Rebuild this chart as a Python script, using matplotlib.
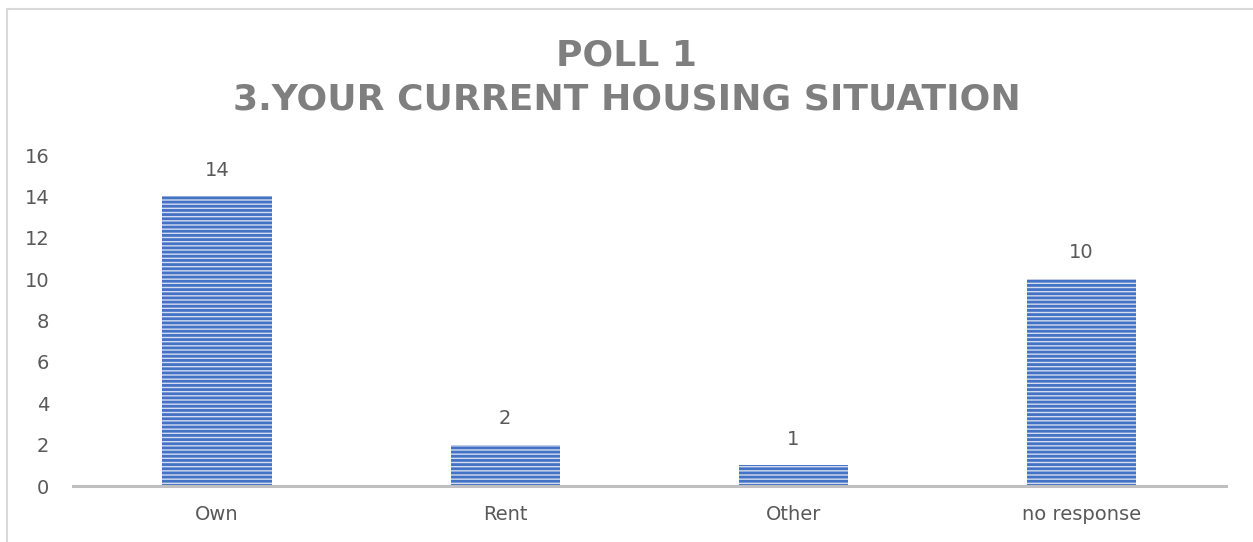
import matplotlib.pyplot as plt
from matplotlib.patches import Rectangle

categories = ['Own', 'Rent', 'Other', 'no response']
counts = [14, 2, 1, 10]
y_ticks = [0, 2, 4, 6, 8, 10, 12, 14, 16]

bar_blue = '#4472C4'
bar_light = '#d4ddf0'
text_grey = '#595959'
title_grey = '#7f7f7f'

plt.rcParams['font.family'] = ['DejaVu Sans']
plt.rcParams['hatch.linewidth'] = 2.0

fig = plt.figure(figsize=(12.53, 5.42), dpi=100)
ax = fig.add_axes([0.0583, 0.1033, 0.9199, 0.6107])

x = range(len(categories))
bars = ax.bar(x, counts, width=0.38, facecolor=bar_light, edgecolor=bar_blue,
              hatch='----', linewidth=0, zorder=2)

for xi, v in zip(x, counts):
    ax.annotate(str(v), (xi, v), xytext=(0, 12), textcoords='offset points',
                ha='center', va='bottom', fontsize=14, color=text_grey)

ax.set_xlim(-0.5, len(categories) - 0.5)
ax.set_ylim(0, 16)
ax.set_yticks(y_ticks, [str(t) for t in y_ticks])
ax.set_xticks(list(x), categories)
ax.tick_params(axis='y', length=0, pad=17, labelsize=14, labelcolor=text_grey)
ax.tick_params(axis='x', length=0, pad=14, labelsize=14, labelcolor=text_grey)

for s in ['left', 'right', 'top']:
    ax.spines[s].set_visible(False)
ax.spines['bottom'].set_color('#bfbfbf')
ax.spines['bottom'].set_linewidth(2.2)
ax.spines['bottom'].set_zorder(3)

fig.text(0.5, 1 - 55 / 542, 'POLL 1', ha='center', va='center', fontsize=26,
         weight='bold', color=title_grey)
fig.text(0.5, 1 - 100 / 542, '3.YOUR CURRENT HOUSING SITUATION', ha='center',
         va='center', fontsize=26, weight='bold', color=title_grey)

# chart area border (only top and left visible in the crop)
border = Rectangle((7 / 1253, -0.1), 1.2, 1 - 9 / 542 + 0.1, transform=fig.transFigure,
                   fill=False, edgecolor='#d9d9d9', linewidth=1.5, clip_on=False)
fig.patches.append(border)

fig.savefig('out.png', dpi=100)
